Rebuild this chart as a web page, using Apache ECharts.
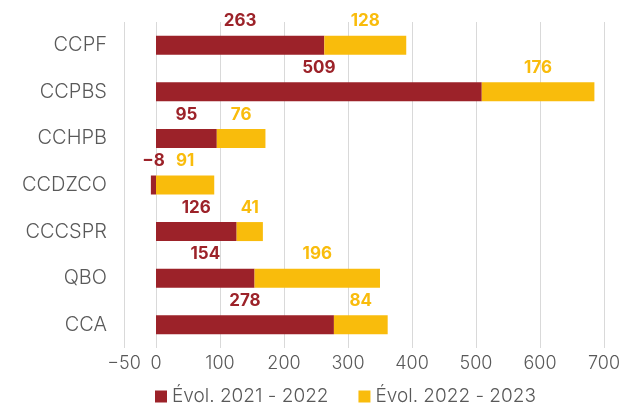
<!DOCTYPE html>
<html>
<head>
<meta charset="utf-8">
<script src="https://cdn.jsdelivr.net/npm/echarts@6/dist/echarts.min.js"></script>
<style>html,body{margin:0;padding:0;background:#fff}#c{width:627px;height:405px}</style>
</head>
<body>
<div id="c"></div>
<script>
const categories = ['CCPF', 'CCPBS', 'CCHPB', 'CCDZCO', 'CCCSPR', 'QBO', 'CCA'];
const evol2122 = [263, 509, 95, -8, 126, 154, 278];
const evol2223 = [128, 176, 76, 91, 41, 196, 84];
const seriesNames = ['Évol. 2021 - 2022', 'Évol. 2022 - 2023'];
const xTicks = [-50, 0, 100, 200, 300, 400, 500, 600, 700];

const RED = '#9C2229', YEL = '#F9BC0C', TXT = '#595959';
const FONT = 'Inter';
const fmtNum = v => (v < 0 ? '\u2212' + Math.abs(v) : String(v));

const chart = echarts.init(document.getElementById('c'), null, {renderer: 'canvas'});
chart.setOption({
  animation: false,
  textStyle: {fontFamily: FONT},
  grid: {left: 124, right: 23, top: 22, bottom: 57, containLabel: false},
  xAxis: {
    type: 'value', min: -50, max: 700,
    axisLine: {show: false},
    axisTick: {show: false, customValues: xTicks},
    splitLine: {show: true, lineStyle: {color: '#D9D9D9', width: 1}},
    axisLabel: {customValues: xTicks, formatter: v => fmtNum(v), color: TXT, fontSize: 18, fontWeight: 300, fontFamily: FONT, margin: 7}
  },
  yAxis: {
    type: 'category', data: categories, inverse: true,
    axisLine: {show: false}, axisTick: {show: false}, splitLine: {show: false},
    axisLabel: {color: TXT, fontSize: 20, fontWeight: 300, fontFamily: FONT, margin: 17}
  },
  legend: {
    top: 387, left: 155, itemWidth: 12, itemHeight: 12, itemGap: 30,
    icon: 'rect', padding: 0,
    textStyle: {color: TXT, fontSize: 19, fontWeight: 300, fontFamily: FONT},
    data: seriesNames
  },
  series: [
    {name: seriesNames[0], type: 'bar', stack: 'a', data: evol2122, barWidth: 19,
     itemStyle: {color: RED},
     label: {show: true, position: 'top', distance: 6, color: RED, fontWeight: 'bold', fontSize: 17, fontFamily: FONT, formatter: p => fmtNum(p.value)}},
    {name: seriesNames[1], type: 'bar', stack: 'a', data: evol2223, barWidth: 19,
     itemStyle: {color: YEL},
     label: {show: true, position: 'top', distance: 6, color: YEL, fontWeight: 'bold', fontSize: 17, fontFamily: FONT, formatter: p => fmtNum(p.value)}}
  ]
});
</script>
</body>
</html>
